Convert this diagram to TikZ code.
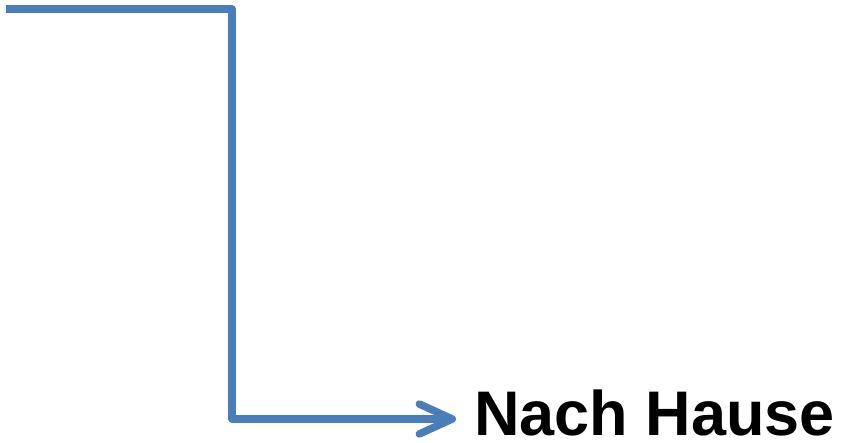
\documentclass[tikz,border=0pt]{standalone}
\usepackage{fontspec}
\setmainfont{Liberation Sans}
\usetikzlibrary{arrows.meta}
\definecolor{lineblue}{HTML}{4A7EBB}
\tikzset{
  flow/.style={draw=lineblue, line width=7.5pt, line join=round,
    -{Straight Barb[length=33pt,width=30pt,round]}},
  label/.style={inner sep=0pt, anchor=base west, font=\fontsize{63}{68}\selectfont\bfseries}
}
\begin{document}
\begin{tikzpicture}[x=1pt,y=1pt]
\useasboundingbox (0,0) rectangle (843,442);
\coordinate (start) at (6,433);
\coordinate (c1) at (232,433);
\coordinate (c2) at (232,23);
\node[label] (home) at (474,7) {Nach Hause};
\coordinate (tip) at (456,23);
\draw[flow] (start) -- (c1) -- (c2) -- (tip);
\end{tikzpicture}
\end{document}
